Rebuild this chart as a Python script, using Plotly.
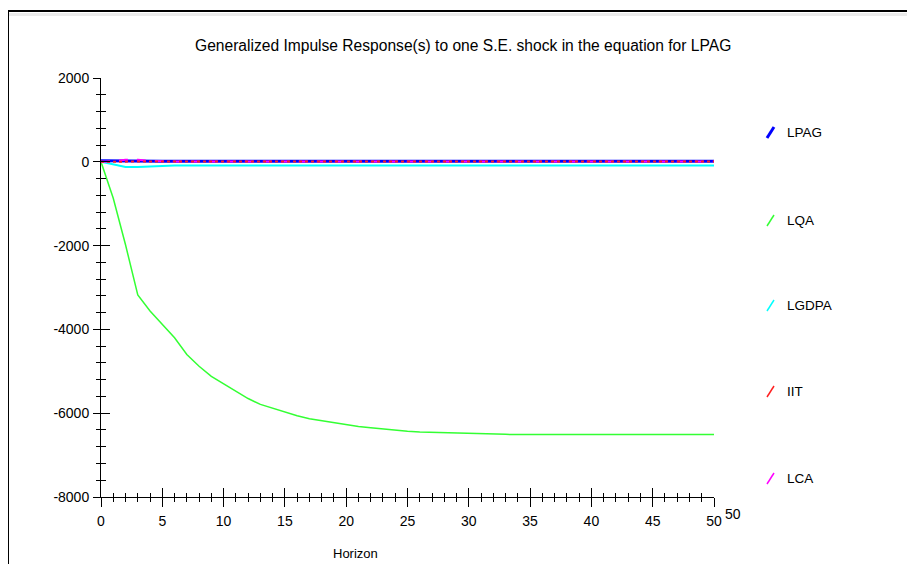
import plotly.graph_objects as go

# ---------------- data ----------------
horizon = list(range(0, 51))

lpag = [25, 20, 18, 16, 15, 15, 15, 15, 15, 15,
        15, 15, 15, 15, 15, 15, 15, 15, 15, 15,
        15, 15, 15, 15, 15, 15, 15, 15, 15, 15,
        15, 15, 15, 15, 15, 15, 15, 15, 15, 15,
        15, 15, 15, 15, 15, 15, 15, 15, 15, 15, 15]

lqa = [0, -870, -1980, -3180, -3560, -3870, -4200, -4600, -4880, -5120,
       -5300, -5480, -5650, -5790, -5880, -5970, -6060, -6130, -6180, -6230,
       -6280, -6320, -6350, -6380, -6410, -6430, -6450, -6460, -6470, -6480,
       -6490, -6495, -6500, -6505, -6510, -6510, -6510, -6510, -6510, -6510,
       -6510, -6510, -6510, -6510, -6510, -6510, -6510, -6510, -6510, -6510, -6510]

lgdpa = [0, -60, -125, -125, -110, -95, -90, -90, -90, -90,
         -90, -90, -90, -90, -90, -90, -90, -90, -90, -90,
         -90, -90, -90, -90, -90, -90, -90, -90, -90, -90,
         -90, -90, -90, -90, -90, -90, -90, -90, -90, -90,
         -90, -90, -90, -90, -90, -90, -90, -90, -90, -90, -90]

iit = [0, 5, 10, 10, 8, 6, 5, 5, 5, 5,
       5, 5, 5, 5, 5, 5, 5, 5, 5, 5,
       5, 5, 5, 5, 5, 5, 5, 5, 5, 5,
       5, 5, 5, 5, 5, 5, 5, 5, 5, 5,
       5, 5, 5, 5, 5, 5, 5, 5, 5, 5, 5]

lca = [0, 10, 50, 50, 20, 10, 8, 8, 8, 8,
       8, 8, 8, 8, 8, 8, 8, 8, 8, 8,
       8, 8, 8, 8, 8, 8, 8, 8, 8, 8,
       8, 8, 8, 8, 8, 8, 8, 8, 8, 8,
       8, 8, 8, 8, 8, 8, 8, 8, 8, 8, 8]

series_names = ["LPAG", "LQA", "LGDPA", "IIT", "LCA"]
x_tick_vals = [0, 5, 10, 15, 20, 25, 30, 35, 40, 45, 50]
y_tick_vals = [2000, 0, -2000, -4000, -6000, -8000]

title_text = "Generalized Impulse Response(s) to one S.E. shock in the equation for LPAG"
x_title = "Horizon"

# ---------------- layout geometry ----------------
OFF = 8                          # page body margin of the browser
W, H = 915 - OFF, 564 - OFF
L, R, T, B = 101 - OFF, 714 - OFF, 78 - OFF, 497 - OFF   # plot area in pixels
FONT = "Liberation Sans"


def px(xp):
    return (xp - OFF - L) / (R - L)


def py(yp):
    return (B - (yp - OFF)) / (B - T)


colors = {"LPAG": "#0000ff", "LQA": "#33ff33", "LGDPA": "#00ffff",
          "IIT": "#ff2020", "LCA": "#ff00ff"}
widths = {"LPAG": 3, "LQA": 1.5, "LGDPA": 2, "IIT": 2, "LCA": 2}
dashes = {"LPAG": "solid", "LQA": "solid", "LGDPA": "solid", "IIT": "dot", "LCA": "dash"}
values = {"LPAG": lpag, "LQA": lqa, "LGDPA": lgdpa, "IIT": iit, "LCA": lca}

fig = go.Figure()
for name in ["LQA", "LGDPA", "LPAG", "LCA", "IIT"]:
    fig.add_trace(go.Scatter(
        x=horizon, y=values[name], mode="lines", name=name,
        line=dict(color=colors[name], width=widths[name], dash=dashes[name]),
        showlegend=False, hoverinfo="skip"))

# invisible trace on secondary axes so they render
fig.add_trace(go.Scatter(x=[horizon[0]], y=[lqa[0]], xaxis="x2", yaxis="y2",
                         mode="markers", marker=dict(opacity=0), showlegend=False,
                         hoverinfo="skip"))

axis_common = dict(showgrid=False, zeroline=False, tickcolor="black",
                   tickfont=dict(family=FONT, size=14, color="black"))

fig.update_layout(
    width=W, height=H, autosize=False,
    margin=dict(l=L, r=W - R, t=T, b=H - B),
    paper_bgcolor="white", plot_bgcolor="white",
    xaxis=dict(range=[0, 50], tickmode="array", tickvals=x_tick_vals,
               ticks="outside", ticklen=9, tickwidth=1,
               showline=True, linecolor="black", linewidth=1,
               minor=dict(dtick=1, tick0=0, ticks="outside", ticklen=4, tickcolor="black"),
               ticklabelstandoff=2,
               **axis_common),
    yaxis=dict(range=[-8000, 2000], tickmode="array", tickvals=y_tick_vals,
               ticktext=[str(v) for v in y_tick_vals],
               ticks="outside", ticklen=7, tickwidth=1,
               showline=True, linecolor="black", linewidth=1,
               minor=dict(dtick=400, tick0=0, ticks="outside", ticklen=4, tickcolor="black"),
               ticklabelstandoff=1,
               **axis_common),
    xaxis2=dict(overlaying="x", matches="x", range=[0, 50], tickmode="array",
                tickvals=x_tick_vals, ticks="inside", ticklen=9, showticklabels=False,
                showline=False, showgrid=False, zeroline=False, tickcolor="black",
                minor=dict(dtick=1, tick0=0, ticks="inside", ticklen=4, tickcolor="black")),
    yaxis2=dict(overlaying="y", matches="y", range=[-8000, 2000], tickmode="array",
                tickvals=y_tick_vals, ticks="inside", ticklen=9, showticklabels=False,
                showline=False, showgrid=False, zeroline=False, tickcolor="black",
                minor=dict(dtick=400, tick0=0, ticks="inside", ticklen=5, tickcolor="black")),
)

ann = []
ann.append(dict(text=title_text, x=px(463), y=py(45), xref="paper", yref="paper",
                showarrow=False, xanchor="center", yanchor="middle",
                font=dict(family=FONT, size=15.6, color="black")))
ann.append(dict(text=x_title, x=px(355), y=py(553), xref="paper", yref="paper",
                showarrow=False, xanchor="center", yanchor="middle",
                font=dict(family=FONT, size=13, color="black")))
ann.append(dict(text=str(x_tick_vals[-1]), x=px(723), y=py(514), xref="paper", yref="paper",
                showarrow=False, xanchor="left", yanchor="middle",
                font=dict(family=FONT, size=14, color="black")))

legend_y = [132, 220, 305, 391, 478]
shapes = []
for name, yc in zip(series_names, legend_y):
    ann.append(dict(text=name, x=px(785), y=py(yc), xref="paper", yref="paper",
                    showarrow=False, xanchor="left", yanchor="middle",
                    font=dict(family=FONT, size=13.5, color="black")))
    shapes.append(dict(type="line", xref="paper", yref="paper",
                       x0=px(767), y0=py(yc + 6), x1=px(774), y1=py(yc - 5),
                       line=dict(color=colors[name], width=3 if name == "LPAG" else 1.5)))

# outer frame (top and left black lines, light gray band)
shapes.append(dict(type="rect", xref="paper", yref="paper", x0=px(9), x1=px(915),
                   y0=py(16), y1=py(13), fillcolor="#ebebeb", line=dict(width=0), layer="below"))
shapes.append(dict(type="line", xref="paper", yref="paper", x0=px(7), x1=px(915),
                   y0=py(11), y1=py(11), line=dict(color="black", width=2)))
shapes.append(dict(type="line", xref="paper", yref="paper", x0=px(8), x1=px(8),
                   y0=py(11), y1=py(564), line=dict(color="black", width=2)))

fig.update_layout(annotations=ann, shapes=shapes)
fig.write_html("out.html")
